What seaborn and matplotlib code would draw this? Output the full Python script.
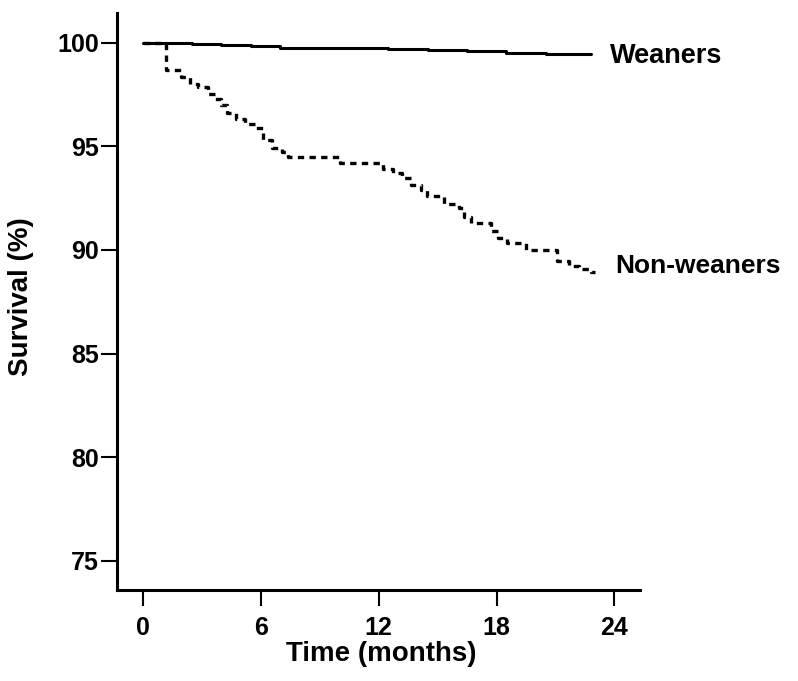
import numpy as np
import pandas as pd
import matplotlib
matplotlib.use("Agg")
import matplotlib.pyplot as plt
import seaborn as sns

# Kaplan-Meier style survival curves
weaners_t = [0, 1.3, 2.5, 4.0, 5.5, 7.0, 12.5, 14.5, 16.5, 18.5, 20.5, 22.0, 22.8]
weaners_s = [100, 99.97, 99.93, 99.88, 99.82, 99.75, 99.70, 99.64, 99.58, 99.52, 99.47, 99.44, 99.44]

nonweaners_t = [0, 1.17, 1.94, 2.4, 2.8, 3.3, 3.7, 4.0, 4.3, 4.75, 5.2, 5.7, 6.1, 6.6,
                7.1, 7.4, 10.06, 12.2, 12.75, 13.2, 13.65, 14.15, 14.45, 15.35, 16.1,
                16.35, 16.7, 17.7, 18.1, 18.55, 19.5, 21.1, 21.7, 22.2, 22.8, 23.0]
nonweaners_s = [100, 98.7, 98.35, 98.0, 97.85, 97.5, 97.3, 97.0, 96.6, 96.3, 96.05, 95.9,
                95.3, 94.9, 94.7, 94.5, 94.2, 93.9, 93.7, 93.45, 93.15, 92.9, 92.6, 92.2,
                92.0, 91.6, 91.3, 90.9, 90.55, 90.35, 90.0, 89.45, 89.2, 89.1, 88.95, 88.95]

x_ticks = [0, 6, 12, 18, 24]
y_ticks = [75, 80, 85, 90, 95, 100]

sns.set_theme(style="ticks")
plt.rcParams["font.family"] = ["Liberation Sans", "DejaVu Sans"]
plt.rcParams["font.weight"] = "bold"
plt.rcParams["text.color"] = "black"
plt.rcParams["axes.labelcolor"] = "black"

df_w = pd.DataFrame({"time": weaners_t, "survival": weaners_s})
df_n = pd.DataFrame({"time": nonweaners_t, "survival": nonweaners_s})

fig = plt.figure(figsize=(7.98, 6.81), dpi=100)
ax = fig.add_axes([0.1466, 0.1336, 0.6554, 0.8474])

sns.lineplot(data=df_w, x="time", y="survival", ax=ax, color="black",
             linewidth=2.2, drawstyle="steps-post", estimator=None)
sns.lineplot(data=df_n, x="time", y="survival", ax=ax, color="black",
             linewidth=2.4, drawstyle="steps-post", estimator=None,
             linestyle=(0, (1.9, 1.6)))

ax.set_xlim(-1.31, 25.3)
ax.set_ylim(73.59, 101.43)
ax.set_xticks(x_ticks)
ax.set_yticks(y_ticks)

for side in ["top", "right"]:
    ax.spines[side].set_visible(False)
for side in ["left", "bottom"]:
    ax.spines[side].set_linewidth(2.2)
    ax.spines[side].set_color("black")

ax.tick_params(axis="both", length=11.5, width=1.5, color="black",
               labelsize=18, labelcolor="black")
ax.tick_params(axis="y", pad=1.5)
ax.tick_params(axis="x", pad=7)
for lbl in ax.get_xticklabels() + ax.get_yticklabels():
    lbl.set_fontweight("bold")

ax.set_xlabel("Time (months)", fontsize=20, fontweight="bold", color="black")
ax.set_ylabel("Survival (%)", fontsize=20, fontweight="bold", color="black")
ax.xaxis.set_label_coords(0.505, -0.088)
ax.yaxis.set_label_coords(-0.159, 0.508)

ax.text(23.77, 99.35, "Weaners", fontsize=19.5, fontweight="bold", color="black",
        ha="left", va="center", clip_on=False)
ax.text(24.02, 89.2, "Non-weaners", fontsize=19, fontweight="bold", color="black",
        ha="left", va="center", clip_on=False)

fig.savefig("out.png", dpi=100, facecolor="white")
